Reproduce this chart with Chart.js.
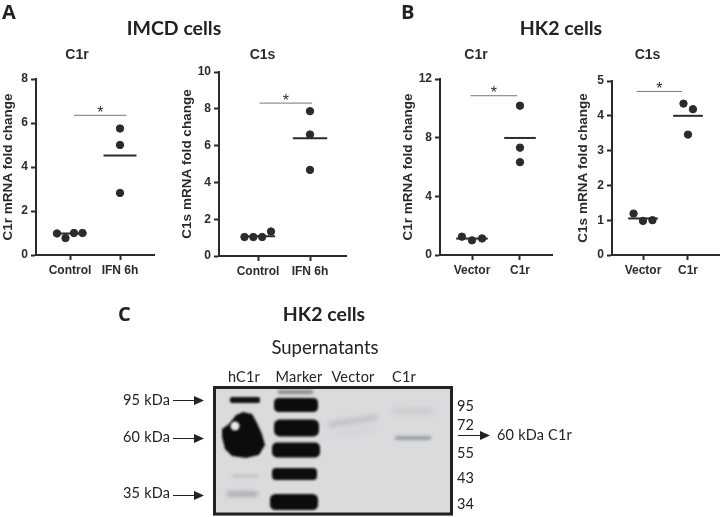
<!DOCTYPE html>
<html>
<head>
<meta charset="utf-8">
<title>C1r and C1s in IMCD and HK2 cells</title>
<script src="https://cdn.jsdelivr.net/npm/chart.js@4"></script>
<style>
    html, body { margin: 0; padding: 0; background: #fff; }
    #page { position: relative; width: 720px; height: 517px; overflow: hidden; }
    #page canvas { position: absolute; }
    .label { position: absolute; white-space: nowrap; color: #222; font-family: Lato, sans-serif; transform: translateY(-50%); }
    .center { transform: translate(-50%, -50%); }
    .letter { font: bold 20px "Open Sans", sans-serif; }
    .heading { font-weight: bold; font-size: 19.5px; }
    .sub { font-size: 18.5px; }
    .lane { font-size: 14.5px; letter-spacing: 0.2px; }
</style>
</head>
<body>
<div id="page">
    <canvas id="blot" width="240" height="130" style="left:213px;top:386px"></canvas>
    <canvas id="arrows" width="720" height="517" style="left:0;top:0"></canvas>
</div>
<script>
// values
const imcdLabels = ['Control', 'IFN 6h'];
const imcdC1rControl = [0.98, 0.77, 1.0, 1.0];
const imcdC1rIfn = [5.75, 5.0, 2.82];
const imcdC1rMeans = [0.98, 4.52];
const imcdC1rBracket = 6.35;

const imcdC1sControl = [1.03, 1.03, 1.03, 1.33];
const imcdC1sIfn = [7.87, 6.6, 4.68];
const imcdC1sMeans = [1.08, 6.4];
const imcdC1sBracket = 8.31;

const hk2Labels = ['Vector', 'C1r'];
const hk2C1rVector = [1.25, 1.0, 1.13];
const hk2C1rC1r = [10.18, 7.32, 6.33];
const hk2C1rMeans = [1.12, 7.98];
const hk2C1rBracket = 10.86;

const hk2C1sVector = [1.19, 0.98, 1.0];
const hk2C1sC1r = [4.35, 4.19, 3.46];
const hk2C1sMeans = [1.05, 4.0];
const hk2C1sBracket = 4.7;

// horizontal scatter of the dots inside each group
const spreadFour = [-0.26, -0.09, 0.08, 0.25];
const spreadThree = [-0.21, 0, 0.21];
const stacked = [0, 0, 0];
const spreadTop = [-0.1, 0.11, 0];

const ink = '#2b2b2b';
const axisFont = 'Liberation Sans, Arial, sans-serif';

const starPlugin = {
    id: 'star',
    afterDatasetsDraw(chart, args, opts) {
        const x = chart.scales.x.getPixelForValue(opts.x);
        const y = chart.scales.y.getPixelForValue(opts.y);
        const ctx = chart.ctx;
        ctx.save();
        ctx.fillStyle = ink;
        ctx.font = '16px ' + axisFont;
        ctx.textAlign = 'center';
        ctx.textBaseline = 'middle';
        ctx.fillText('*', x, y - 2);
        ctx.restore();
    }
};

function toPoints(values, center, spread) {
    return values.map((v, i) => ({ x: center + spread[i], y: v }));
}

function meanLine(value, center) {
    return [{ x: center - 0.33, y: value }, { x: center + 0.33, y: value }];
}

function makePanel(p) {
    const canvas = document.createElement('canvas');
    const left = p.axisLeft - p.yWidth;
    const width = Math.round(2 * (p.titleX - left));
    const top = 47;
    const xHeight = 30;
    canvas.style.left = left + 'px';
    canvas.style.top = top + 'px';
    canvas.style.width = width + 'px';
    canvas.style.height = (p.axisBottom + xHeight - top) + 'px';
    canvas.width = width;
    canvas.height = p.axisBottom + xHeight - top;
    document.getElementById('page').appendChild(canvas);

    const unit = p.tickRight - p.tickLeft;
    const xMin = 1 - (p.tickLeft - p.axisLeft) / unit;
    const xMax = 1 + (p.axisRight - p.tickLeft) / unit;

    new Chart(canvas.getContext('2d'), {
        type: 'scatter',
        data: {
            datasets: [
                { data: toPoints(p.first, 1, p.firstSpread), pointRadius: 3.7, backgroundColor: ink, borderColor: ink, clip: false },
                { data: toPoints(p.second, 2, p.secondSpread), pointRadius: 3.7, backgroundColor: ink, borderColor: ink, clip: false },
                { data: meanLine(p.means[0], 1), showLine: true, pointRadius: 0, borderColor: ink, borderWidth: 2 },
                { data: meanLine(p.means[1], 2), showLine: true, pointRadius: 0, borderColor: ink, borderWidth: 2 },
                { data: [{ x: p.bracketFrom, y: p.bracket }, { x: p.bracketTo, y: p.bracket }], showLine: true, pointRadius: 0, borderColor: '#777', borderWidth: 1 }
            ]
        },
        options: {
            responsive: false,
            animation: false,
            layout: { padding: { right: width - (p.axisRight - left), left: 0, top: 0, bottom: 0 } },
            plugins: {
                legend: { display: false },
                tooltip: { enabled: false },
                title: {
                    display: true,
                    text: p.title,
                    color: ink,
                    font: { family: axisFont, size: 14, weight: 'bold', lineHeight: 1.2 },
                    padding: { top: 0, bottom: p.axisTop - top - 16.8 }
                },
                star: { x: (p.bracketFrom + p.bracketTo) / 2, y: p.bracket }
            },
            scales: {
                x: {
                    type: 'linear',
                    min: xMin,
                    max: xMax,
                    afterBuildTicks: scale => { scale.ticks = [{ value: 1 }, { value: 2 }]; },
                    afterFit: scale => { scale.height = xHeight; },
                    border: { color: ink, width: 2 },
                    grid: { drawOnChartArea: false, drawTicks: true, tickLength: 5, tickWidth: 2, tickColor: ink },
                    ticks: {
                        color: ink,
                        padding: 3,
                        maxRotation: 0,
                        autoSkip: false,
                        font: { family: axisFont, size: 12, weight: 'bold' },
                        callback: value => p.labels[value - 1]
                    }
                },
                y: {
                    min: 0,
                    max: p.yMax,
                    afterFit: scale => { scale.width = p.yWidth; },
                    border: { color: ink, width: 2 },
                    grid: { drawOnChartArea: false, drawTicks: true, tickLength: 5, tickWidth: 2, tickColor: ink },
                    ticks: { stepSize: p.yStep, color: ink, padding: 3, font: { family: axisFont, size: 12, weight: 'bold' } },
                    title: {
                        display: true,
                        text: p.yTitle,
                        color: ink,
                        padding: 0,
                        font: { family: axisFont, size: 13.5, weight: 'bold' }
                    }
                }
            }
        },
        plugins: [starPlugin]
    });
}

makePanel({
    title: 'C1r', yTitle: 'C1r mRNA fold change', labels: imcdLabels, yMax: 8, yStep: 2,
    first: imcdC1rControl, firstSpread: spreadFour, second: imcdC1rIfn, secondSpread: stacked,
    means: imcdC1rMeans, bracket: imcdC1rBracket, bracketFrom: 1.08, bracketTo: 2.13,
    axisLeft: 36, axisRight: 154, axisTop: 79, axisBottom: 255, tickLeft: 70, tickRight: 120, titleX: 98, yWidth: 36
});
makePanel({
    title: 'C1s', yTitle: 'C1s mRNA fold change', labels: imcdLabels, yMax: 10, yStep: 2,
    first: imcdC1sControl, firstSpread: spreadFour, second: imcdC1sIfn, secondSpread: stacked,
    means: imcdC1sMeans, bracket: imcdC1sBracket, bracketFrom: 1.03, bracketTo: 2.04,
    axisLeft: 219, axisRight: 346, axisTop: 72, axisBottom: 256, tickLeft: 258, tickRight: 310, titleX: 283, yWidth: 40
});
makePanel({
    title: 'C1r', yTitle: 'C1r mRNA fold change', labels: hk2Labels, yMax: 12, yStep: 4,
    first: hk2C1rVector, firstSpread: spreadThree, second: hk2C1rC1r, secondSpread: stacked,
    means: hk2C1rMeans, bracket: hk2C1rBracket, bracketFrom: 0.97, bracketTo: 1.94,
    axisLeft: 440, axisRight: 552, axisTop: 79, axisBottom: 255, tickLeft: 472, tickRight: 520, titleX: 495, yWidth: 40
});
makePanel({
    title: 'C1s', yTitle: 'C1s mRNA fold change', labels: hk2Labels, yMax: 5, yStep: 1,
    first: hk2C1sVector, firstSpread: spreadThree, second: hk2C1sC1r, secondSpread: spreadTop,
    means: hk2C1sMeans, bracket: hk2C1sBracket, bracketFrom: 0.86, bracketTo: 1.87,
    axisLeft: 612, axisRight: 720, axisTop: 81, axisBottom: 255, tickLeft: 643, tickRight: 688, titleX: 664, yWidth: 37
});

// plain page labels
const pageLabels = [
    ['A', 2, 11, 'letter'], ['B', 401, 11, 'letter'], ['C', 118, 313, 'letter'],
    ['IMCD cells', 174, 27, 'heading center'], ['HK2 cells', 561, 27, 'heading center'], ['HK2 cells', 324, 313, 'heading center'],
    ['Supernatants', 325, 347, 'sub center'],
    ['hC1r', 244, 376, 'lane center'], ['Marker', 299, 376, 'lane center'], ['Vector', 353, 376, 'lane center'], ['C1r', 404, 376, 'lane center'],
    ['95 kDa', 123, 399, 'lane'], ['60 kDa', 123, 436, 'lane'], ['35 kDa', 123, 492, 'lane'],
    ['95', 457, 405, 'lane'], ['72', 457, 424, 'lane'], ['55', 457, 452, 'lane'], ['43', 457, 477, 'lane'], ['34', 457, 503, 'lane'],
    ['60 kDa C1r', 497, 434, 'lane']
];
document.getElementById('page').insertAdjacentHTML('beforeend', pageLabels.map(([text, x, y, cls]) =>
    `<div class="label ${cls}" style="left:${x}px;top:${y}px">${text}</div>`
).join(''));

// arrows next to the blot
function drawArrows() {
    const ctx = document.getElementById('arrows').getContext('2d');
    ctx.strokeStyle = '#222';
    ctx.fillStyle = '#222';
    ctx.lineWidth = 1;
    [[173, 204, 400], [173, 204, 438], [173, 204, 495], [458, 490, 435]].forEach(([x0, x1, y]) => {
        ctx.beginPath();
        ctx.moveTo(x0, y + 0.5);
        ctx.lineTo(x1 - 8, y + 0.5);
        ctx.stroke();
        ctx.beginPath();
        ctx.moveTo(x1, y + 0.5);
        ctx.lineTo(x1 - 10, y - 4);
        ctx.lineTo(x1 - 10, y + 5);
        ctx.closePath();
        ctx.fill();
    });
}
drawArrows();

// the western blot photo, painted as soft bands
function drawBlot() {
    const ctx = document.getElementById('blot').getContext('2d');
    const ox = 213, oy = 386;
    ctx.fillStyle = '#dadbdd';
    ctx.fillRect(0, 0, 240, 130);

    function band(x0, x1, y, h, color, blur, tilt) {
        ctx.save();
        ctx.filter = `blur(${blur}px)`;
        ctx.fillStyle = color;
        ctx.translate((x0 + x1) / 2 - ox, y - oy);
        ctx.rotate(tilt || 0);
        ctx.beginPath();
        ctx.roundRect((x0 - x1) / 2, -h / 2, x1 - x0, h, h / 3);
        ctx.fill();
        ctx.restore();
    }

    // faint bands
    band(328, 377, 421, 5, '#bcbec0', 2.5, -0.15);
    band(334, 376, 432, 5, '#d2d4d6', 2.5, -0.15);
    band(393, 433, 411, 7, '#cbcdcf', 2.5);
    band(395, 431, 438, 4, '#9c9ea0', 1.5);
    band(232, 258, 476, 3, '#c2c4c6', 1.5);
    band(227, 258, 494, 5, '#a8aaac', 2);
    band(278, 313, 392, 4, '#8a8a8a', 1.5);

    // hC1r lane
    band(230, 260, 400, 6, '#111', 0.8);
    const blob = [[243, 412], [252, 414], [257, 423], [262, 434], [265, 445], [259, 455], [246, 458], [232, 456], [225, 449], [222, 437], [222, 429], [229, 424], [236, 415]];
    ctx.save();
    ctx.filter = 'blur(0.8px)';
    ctx.fillStyle = '#0c0c0c';
    ctx.beginPath();
    blob.forEach(([x, y], i) => i ? ctx.lineTo(x - ox, y - oy) : ctx.moveTo(x - ox, y - oy));
    ctx.closePath();
    ctx.fill();
    ctx.fillStyle = '#e8e8e8';
    ctx.beginPath();
    ctx.arc(235 - ox, 426 - oy, 4.5, 0, Math.PI * 2);
    ctx.fill();
    ctx.restore();

    // marker lane
    band(274, 318, 405, 14, '#0c0c0c', 0.8);
    band(274, 319, 428, 17, '#0c0c0c', 0.8);
    band(272, 320, 450, 15, '#0c0c0c', 0.8);
    band(272, 317, 474, 12, '#0c0c0c', 0.8);
    band(270, 318, 502, 16, '#0c0c0c', 0.8);

    // frame
    ctx.strokeStyle = '#222';
    ctx.lineWidth = 3;
    ctx.strokeRect(1.5, 1.5, 237, 126.5);
}
drawBlot();
</script>
</body>
</html>
